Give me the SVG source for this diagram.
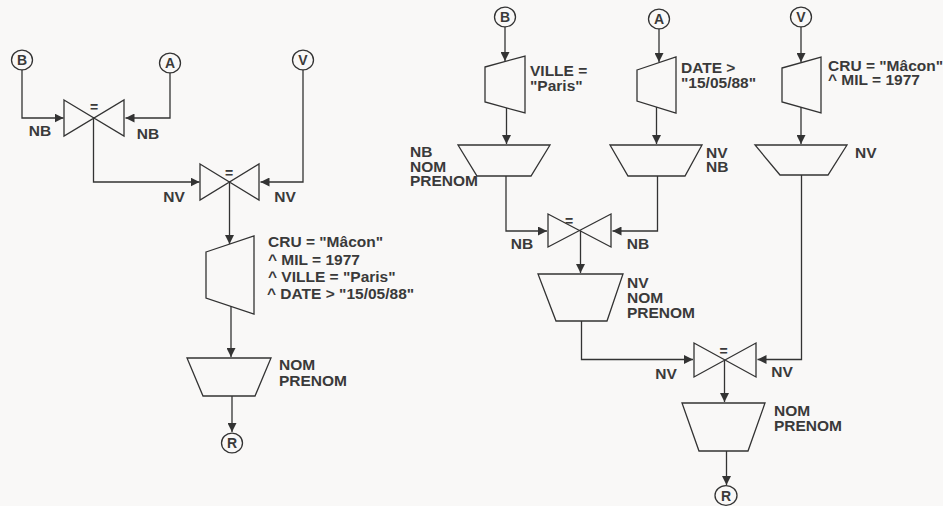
<svg xmlns="http://www.w3.org/2000/svg" width="943" height="506" viewBox="0 0 943 506">
<defs>
<marker id="arr" markerUnits="userSpaceOnUse" markerWidth="10" markerHeight="9" refX="9" refY="4.5" orient="auto">
<path d="M0,0 L9,4.5 L0,9 Z" fill="#333"/>
</marker>
<style>
.s{fill:none;stroke:#333;stroke-width:1.3}
.c{fill:none;stroke:#333;stroke-width:1.3;marker-end:url(#arr)}
text{font-family:"Liberation Sans",Arial,sans-serif;font-weight:bold;font-size:15.5px;fill:#3a3a3a}
.m{text-anchor:middle}
.eq{font-size:14px;text-anchor:middle}
.ci{font-size:14px;text-anchor:middle}
</style>
</defs>
<rect width="943" height="506" fill="#f9f8f7"/>

<!-- LEFT TREE -->
<g id="L_B"><ellipse class="s" cx="22" cy="60" rx="10.5" ry="9.8"/><text class="ci" x="22" y="65">B</text></g>
<g id="L_A"><ellipse class="s" cx="170" cy="63" rx="10.5" ry="9.8"/><text class="ci" x="170" y="68">A</text></g>
<g id="L_V"><ellipse class="s" cx="303" cy="60" rx="10.5" ry="9.8"/><text class="ci" x="303" y="65">V</text></g>
<g id="L_J1"><path class="s" d="M64,100 L124,136 L124,100 L64,136 Z"/><text class="eq" x="94" y="112">=</text></g>
<g id="L_J2"><path class="s" d="M200,164 L259,200 L259,164 L200,200 Z"/><text class="eq" x="229" y="178">=</text></g>
<g id="L_SEL"><path class="s" d="M206,252 L254,236 L254,314 L206,298 Z"/>
<text x="268" y="247">CRU = "Mâcon"</text>
<text x="268" y="264.5">^ MIL = 1977</text>
<text x="268" y="282">^ VILLE = "Paris"</text>
<text x="267" y="299">^ DATE &gt; "15/05/88"</text></g>
<g id="L_PROJ"><path class="s" d="M187,358 L271,358 L255,396 L203,396 Z"/>
<text x="279" y="370">NOM</text><text x="279" y="386">PRENOM</text></g>
<g id="L_R"><ellipse class="s" cx="232" cy="443" rx="10.5" ry="9.8"/><text class="ci" x="232" y="448">R</text></g>

<!-- RIGHT TREE -->
<g id="R_B"><ellipse class="s" cx="505" cy="17" rx="10.5" ry="9.8"/><text class="ci" x="505" y="22">B</text></g>
<g id="R_A"><ellipse class="s" cx="659" cy="19" rx="10.5" ry="9.8"/><text class="ci" x="659" y="24">A</text></g>
<g id="R_V"><ellipse class="s" cx="801" cy="17" rx="10.5" ry="9.8"/><text class="ci" x="801" y="22">V</text></g>
<g id="R_SELB"><path class="s" d="M485,67 L525,56 L525,113 L485,102 Z"/>
<text x="530" y="76">VILLE =</text><text x="530" y="90.5">"Paris"</text></g>
<g id="R_SELA"><path class="s" d="M637,70 L676,57 L676,113 L637,101 Z"/>
<text x="681" y="72.5">DATE &gt;</text><text x="681" y="87.5">"15/05/88"</text></g>
<g id="R_SELV"><path class="s" d="M782,68 L821,57 L821,113 L782,102 Z"/>
<text x="828" y="70.7">CRU = "Mâcon"</text><text x="828" y="84.5">^ MIL = 1977</text></g>
<g id="R_PROJB"><path class="s" d="M458,145 L550,145 L531,176 L477,176 Z"/>
<text x="410" y="156.7">NB</text><text x="410" y="172">NOM</text><text x="410" y="186">PRENOM</text></g>
<g id="R_PROJA"><path class="s" d="M610,145 L702,145 L685,176 L628,176 Z"/>
<text x="706" y="157.5">NV</text><text x="706" y="171.5">NB</text></g>
<g id="R_PROJV"><path class="s" d="M755,145 L847,145 L828,175 L780,175 Z"/>
<text x="855" y="157.5">NV</text></g>
<g id="R_J3"><path class="s" d="M548,214 L611,247 L611,214 L548,247 Z"/><text class="eq" x="569" y="226">=</text></g>
<g id="R_PROJ3"><path class="s" d="M538,274 L623,274 L607,321 L556,321 Z"/>
<text x="627" y="287.7">NV</text><text x="627" y="303.3">NOM</text><text x="627" y="318">PRENOM</text></g>
<g id="R_J4"><path class="s" d="M694,343 L756,377 L756,343 L694,377 Z"/><text class="eq" x="723.5" y="356">=</text></g>
<g id="R_PROJ4"><path class="s" d="M682,403 L765,403 L748,451 L699,451 Z"/>
<text x="774" y="416">NOM</text><text x="774" y="431">PRENOM</text></g>
<g id="R_R"><ellipse class="s" cx="726" cy="495.5" rx="11" ry="9.8"/><text class="ci" x="726" y="500.5">R</text></g>

<!-- CONNECTORS -->
<g id="connectors">
<path class="c" d="M22,70 V118 H63.5"/>
<path class="c" d="M170,73 V118 H125.5"/>
<path class="c" d="M93.5,118 V182 H199.5"/>
<path class="c" d="M303,70 V182 H260.5"/>
<path class="c" d="M229.5,182 V244"/>
<path class="c" d="M231,306 V357"/>
<path class="c" d="M232,396 V432"/>
<path class="c" d="M505,27 V61"/>
<path class="c" d="M659,29 V62"/>
<path class="c" d="M801,27 V62"/>
<path class="c" d="M506.5,108 V144"/>
<path class="c" d="M656.5,107 V144"/>
<path class="c" d="M801,107 V144"/>
<path class="c" d="M506,176 V231 H547"/>
<path class="c" d="M657.5,176 V231 H612.5"/>
<path class="c" d="M580.5,230.5 V273"/>
<path class="c" d="M581.5,321 V359.5 H693"/>
<path class="c" d="M801.5,175 V359.5 H757.5"/>
<path class="c" d="M724.5,360 V402"/>
<path class="c" d="M726.5,451 V485"/>
<text class="m" x="40" y="136">NB</text>
<text class="m" x="148" y="139">NB</text>
<text class="m" x="174" y="201.5">NV</text>
<text class="m" x="285" y="201.5">NV</text>
<text class="m" x="522" y="249">NB</text>
<text class="m" x="638" y="249">NB</text>
<text class="m" x="666" y="379">NV</text>
<text class="m" x="782" y="377">NV</text>
</g>
</svg>
